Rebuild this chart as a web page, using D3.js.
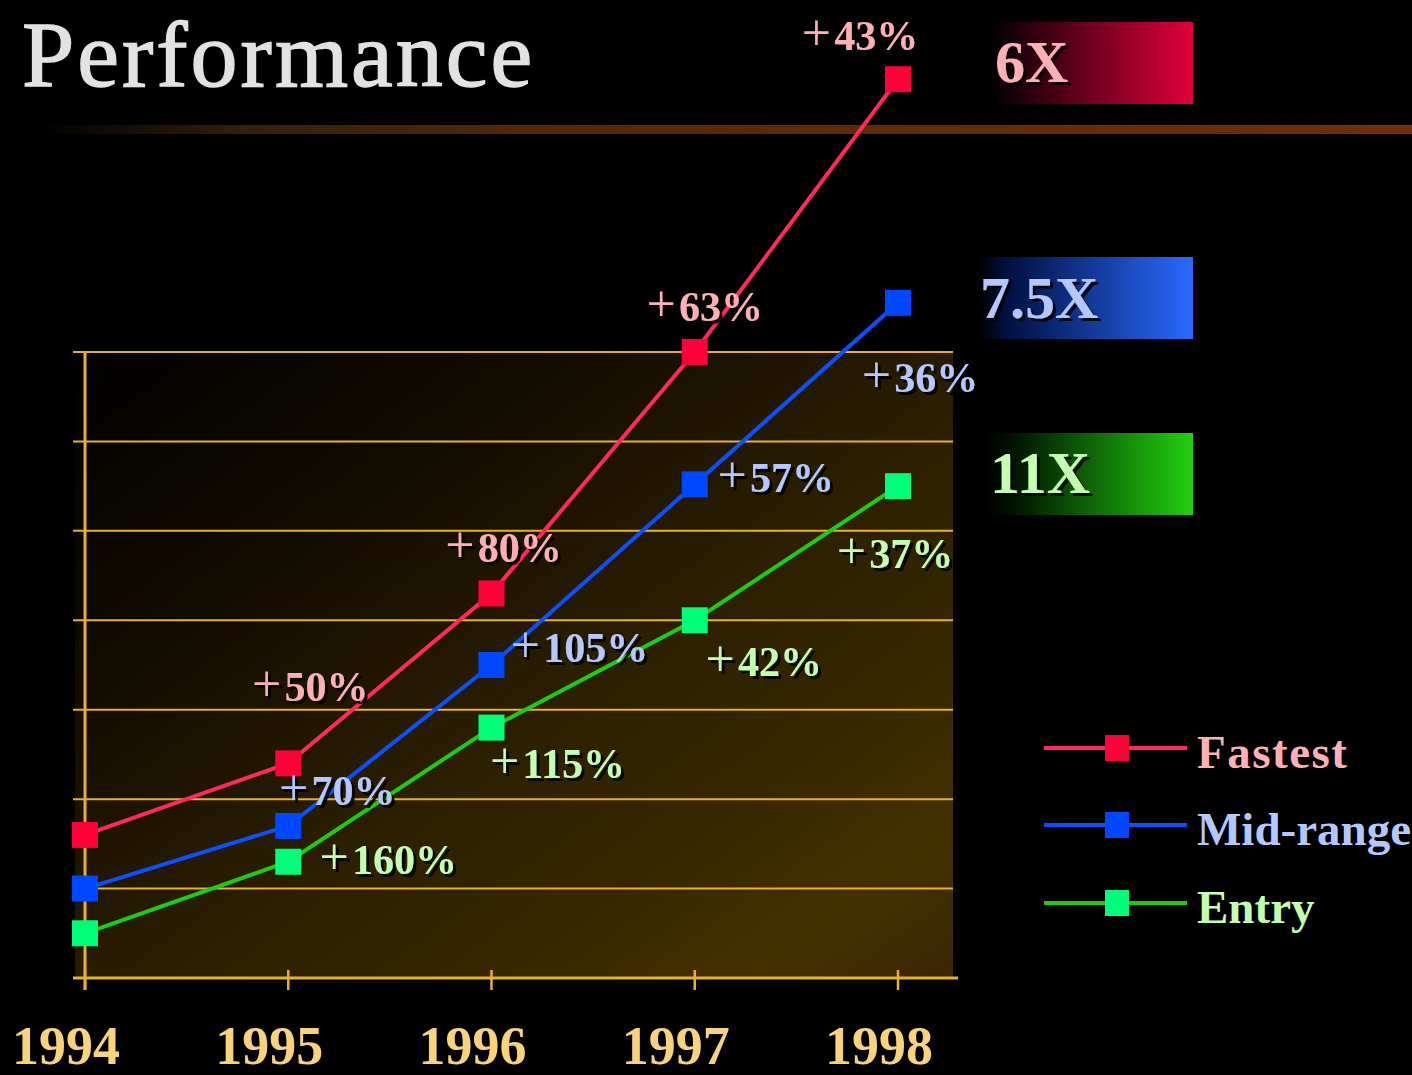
<!DOCTYPE html>
<html>
<head>
<meta charset="utf-8">
<script src="https://cdn.jsdelivr.net/npm/d3@7"></script>
<style>
html,body{margin:0;padding:0;background:#000;}
svg{display:block;}
</style>
</head>
<body>
<svg id="chart" width="1412" height="1075"></svg>
<script>
// ---- data ----
const years = [1994, 1995, 1996, 1997, 1998];
const seriesNames = ["Fastest", "Mid-range", "Entry"];
const fastest = [1.6, 2.4, 4.3, 7.0, 10.05];
const midRange = [1.0, 1.7, 3.5, 5.52, 7.55];
const entry = [0.5, 1.3, 2.8, 4.0, 5.5];
const fastestGrowth = ["50%", "80%", "63%", "43%"];
const midRangeGrowth = ["70%", "105%", "57%", "36%"];
const entryGrowth = ["160%", "115%", "42%", "37%"];
const multipliers = ["6X", "7.5X", "11X"];
const yTicks = [0, 1, 2, 3, 4, 5, 6, 7];

// ---- styling / placement (not data) ----
const lineColors = ["#ff2a5a", "#0a50ff", "#20cc10"];
const markerColors = ["#ff0038", "#0048ff", "#00ff78"];
const textColors = ["#ffb0b4", "#b4c8ff", "#c4ffb0"];
// label offsets relative to the point the growth leads to
const labelOffsets = [
  [[22, -62], [12, -31], [10, -31], [-38, -29]],
  [[49, -21], [88, -3], [81, 8], [22, 89]],
  [[100, 12], [66, 50], [69, 56], [-3, 82]]
];
const boxSpec = [
  {x0: 990, y: 22, dark: "#1a0008", bright: "#e0003a", textX: 995, base: 82},
  {x0: 980, y: 257, dark: "#001040", bright: "#2a6aff", textX: 980, base: 318},
  {x0: 985, y: 433, dark: "#001000", bright: "#22d010", textX: 990, base: 493}
];
const serif = "'Liberation Serif', 'Times New Roman', serif";

const svg = d3.select("#chart");
const defs = svg.append("defs");

const shadow = defs.append("filter").attr("id", "shadow")
  .attr("x", "-10%").attr("y", "-10%").attr("width", "130%").attr("height", "130%");
shadow.append("feDropShadow").attr("dx", 3).attr("dy", 3).attr("stdDeviation", 0.6)
  .attr("flood-color", "#000").attr("flood-opacity", 0.9);

svg.append("rect").attr("width", 1412).attr("height", 1075).attr("fill", "#000");

// scales
const x = d3.scaleLinear().domain([1994, 1998]).range([85, 898]);
const y = d3.scaleLinear().domain([0, 7]).range([978, 352]);

// plot background gradient
const bg = defs.append("linearGradient").attr("id", "plotbg")
  .attr("x1", "0").attr("y1", "0").attr("x2", "1").attr("y2", "1");
[[0, "#000000"], [0.3, "#140d00"], [0.55, "#2c1f00"], [0.75, "#382800"], [0.88, "#453100"], [1, "#3a2606"]]
  .forEach(s => bg.append("stop").attr("offset", s[0]).attr("stop-color", s[1]));
svg.append("rect")
  .attr("x", x(1994) - 10).attr("y", y(7))
  .attr("width", 953 - (x(1994) - 10)).attr("height", y(0) - y(7))
  .attr("fill", "url(#plotbg)");

// title
svg.append("text").attr("x", 22).attr("y", 86)
  .attr("font-family", serif)
  .attr("font-size", 94).attr("letter-spacing", 3).attr("font-weight", "normal")
  .attr("stroke", "#e2e2e2").attr("stroke-width", 1.4)
  .attr("fill", "#e2e2e2").text("Performance");

// divider bar
const dg = defs.append("linearGradient").attr("id", "divider")
  .attr("x1", "0").attr("x2", "1").attr("y1", "0").attr("y2", "0");
[[0, "#000000"], [0.15, "#35200a"], [0.35, "#542808"], [1, "#742e04"]]
  .forEach(s => dg.append("stop").attr("offset", s[0]).attr("stop-color", s[1]));
svg.append("rect").attr("x", 40).attr("y", 125).attr("width", 1372).attr("height", 9)
  .attr("fill", "url(#divider)");

// gridlines (left-extended ticks)
const gridColor = "#e8b030";
svg.append("g").selectAll("line").data(yTicks.slice(1)).join("line")
  .attr("x1", 73).attr("x2", 953)
  .attr("y1", d => y(d)).attr("y2", d => y(d))
  .attr("stroke", gridColor).attr("stroke-width", 2);

// x axis baseline and ticks
svg.append("line").attr("x1", 73).attr("x2", 958).attr("y1", y(0)).attr("y2", y(0))
  .attr("stroke", gridColor).attr("stroke-width", 3);
svg.append("g").selectAll("line").data(years).join("line")
  .attr("x1", d => x(d)).attr("x2", d => x(d))
  .attr("y1", y(0) - 8).attr("y2", y(0) + 12)
  .attr("stroke", gridColor).attr("stroke-width", 2.5);
// y axis line
svg.append("line").attr("x1", x(1994)).attr("x2", x(1994))
  .attr("y1", y(7)).attr("y2", y(0) + 12)
  .attr("stroke", gridColor).attr("stroke-width", 3);

// year labels
svg.append("g").selectAll("text").data(years).join("text")
  .attr("x", d => x(d) - 19).attr("y", 1064)
  .attr("text-anchor", "middle")
  .attr("font-family", serif)
  .attr("font-weight", "bold").attr("font-size", 54)
  .attr("fill", "#f8d27c").text(d => d);

// multiplier boxes
multipliers.forEach((m, i) => {
  const b = boxSpec[i];
  const g = defs.append("linearGradient").attr("id", "box" + i)
    .attr("x1", "0").attr("x2", "1").attr("y1", "0").attr("y2", "0");
  g.append("stop").attr("offset", 0).attr("stop-color", "#000");
  g.append("stop").attr("offset", 0.12).attr("stop-color", b.dark);
  g.append("stop").attr("offset", 1).attr("stop-color", b.bright);
  svg.append("rect").attr("x", b.x0).attr("y", b.y).attr("width", 1193 - b.x0).attr("height", 82)
    .attr("fill", `url(#box${i})`);
  svg.append("text").attr("x", b.textX).attr("y", b.base)
    .attr("font-family", serif).attr("filter", "url(#shadow)")
    .attr("font-weight", "bold").attr("font-size", 60).attr("fill", textColors[i])
    .text(m);
});

// series
const allSeries = [fastest, midRange, entry];
const allGrowth = [fastestGrowth, midRangeGrowth, entryGrowth];
const line = d3.line().x((d, i) => x(years[i])).y(d => y(d));
const ms = 26;

allSeries.forEach((vals, si) => {
  svg.append("path").datum(vals).attr("d", line)
    .attr("fill", "none").attr("stroke", lineColors[si]).attr("stroke-width", 4);
});
allSeries.forEach((vals, si) => {
  svg.append("g").selectAll("rect").data(vals).join("rect")
    .attr("x", (d, i) => x(years[i]) - ms / 2).attr("y", d => y(d) - ms / 2)
    .attr("width", ms).attr("height", ms).attr("fill", markerColors[si]);
});

// growth labels
allGrowth.forEach((labels, si) => {
  labels.forEach((lab, li) => {
    const px = x(years[li + 1]) + labelOffsets[si][li][0];
    const py = y(allSeries[si][li + 1]) + labelOffsets[si][li][1];
    const t = svg.append("text").attr("x", px).attr("y", py)
      .attr("text-anchor", "middle").attr("filter", "url(#shadow)")
      .attr("font-family", serif)
      .attr("font-size", 42).attr("fill", textColors[si]);
    t.append("tspan").attr("font-weight", "normal").attr("font-size", 52).text("+");
    t.append("tspan").attr("font-weight", "bold").attr("dx", 3).text(lab);
  });
});

// legend
const legendY = [748, 825, 903];
seriesNames.forEach((name, i) => {
  const g = svg.append("g");
  g.append("line").attr("x1", 1044).attr("x2", 1187).attr("y1", legendY[i]).attr("y2", legendY[i])
    .attr("stroke", lineColors[i]).attr("stroke-width", 4);
  g.append("rect").attr("x", 1117 - 12).attr("y", legendY[i] - 13).attr("width", 24).attr("height", 26)
    .attr("fill", markerColors[i]);
  g.append("text").attr("x", 1197).attr("y", legendY[i] + 20)
    .attr("font-family", serif)
    .attr("font-weight", "bold").attr("font-size", 47)
    .attr("letter-spacing", i === 0 ? 1.5 : 0)
    .attr("fill", textColors[i]).text(name);
});
</script>
</body>
</html>
